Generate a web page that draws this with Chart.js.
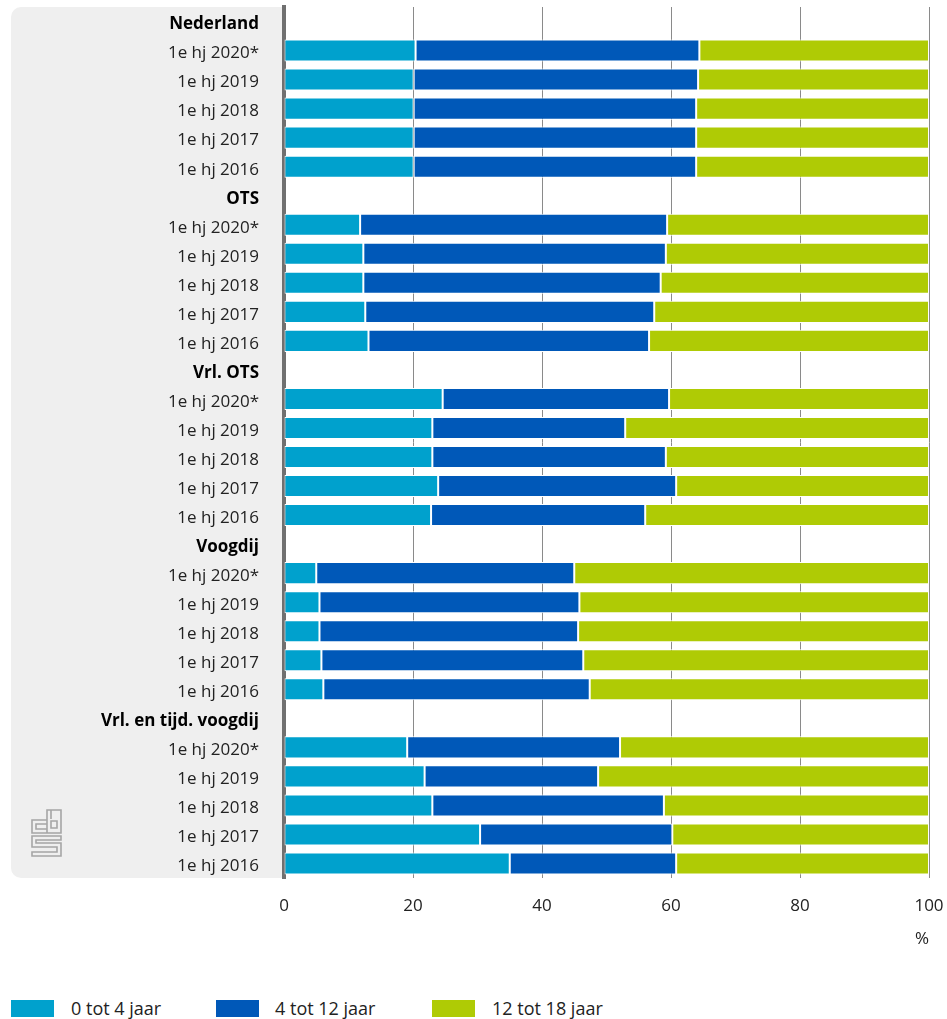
<!DOCTYPE html>
<html>
<head>
<meta charset="utf-8">
<script src="https://cdn.jsdelivr.net/npm/chart.js@4"></script>
<style>
  body { margin: 0; background: #fff; font-family: "Open Sans", sans-serif; }
  #wrap { position: relative; width: 947px; height: 1019px; }
  #chart { position: absolute; left: 0; top: 0; }
  .legend { position: absolute; top: 998px; left: 0; width: 947px; height: 21px; font-size: 18px; color: #222; }
  .legend span.box { position: absolute; top: 2px; width: 43px; height: 17px; }
  .legend span.txt { position: absolute; top: -2px; white-space: nowrap; }
</style>
</head>
<body>
<div id="wrap">
  <canvas id="chart" width="947" height="960"></canvas>
  <div class="legend" id="legend"></div>
</div>
<script>
// groups and periods
const groups = ['Nederland', 'OTS', 'Vrl. OTS', 'Voogdij', 'Vrl. en tijd. voogdij'];
const periods = ['1e hj 2020*', '1e hj 2019', '1e hj 2018', '1e hj 2017', '1e hj 2016'];

// percentages per group, in the order of periods
const age0to4 = [
  [20.4, 20.1, 20.1, 20.1, 20.1],
  [11.8, 12.3, 12.3, 12.6, 13.1],
  [24.6, 23.0, 23.0, 23.9, 22.8],
  [5.0, 5.5, 5.5, 5.8, 6.1],
  [19.1, 21.8, 23.0, 30.4, 35.0]
];
const age4to12 = [
  [44.0, 44.1, 43.8, 43.8, 43.8],
  [47.6, 46.9, 46.1, 44.8, 43.5],
  [35.1, 29.9, 36.2, 36.9, 33.2],
  [40.0, 40.3, 40.1, 40.6, 41.3],
  [33.0, 26.9, 35.9, 29.8, 25.8]
];
const age12to18 = [
  [35.6, 35.8, 36.1, 36.1, 36.1],
  [40.6, 40.8, 41.6, 42.6, 43.4],
  [40.3, 47.1, 40.8, 39.2, 44.0],
  [55.0, 54.2, 54.4, 53.6, 52.6],
  [47.9, 51.3, 41.1, 39.8, 39.2]
];
const xTicks = [0, 20, 40, 60, 80, 100];

const seriesNames = ['0 tot 4 jaar', '4 tot 12 jaar', '12 tot 18 jaar'];
const colors = ['#00a1cd', '#0058b8', '#afcb05'];

// build rows: one header row per group, then its periods
const labels = [];
const headerRows = [];
function flatten(arr) {
  const out = [];
  groups.forEach((g, gi) => {
    out.push(null);
    arr[gi].forEach(v => out.push(v));
  });
  return out;
}
groups.forEach(g => {
  headerRows.push(labels.length);
  labels.push(g);
  periods.forEach(p => labels.push(p));
});

const panelPlugin = {
  id: 'panel',
  beforeDraw(chart) {
    const { ctx, chartArea } = chart;
    const x0 = 11, x1 = chartArea.left, y0 = chartArea.top, y1 = chartArea.bottom, r = 10;
    ctx.save();
    ctx.fillStyle = '#efefef';
    ctx.beginPath();
    ctx.moveTo(x1, y0);
    ctx.lineTo(x0 + r, y0);
    ctx.arcTo(x0, y0, x0, y0 + r, r);
    ctx.lineTo(x0, y1 - r);
    ctx.arcTo(x0, y1, x0 + r, y1, r);
    ctx.lineTo(x1, y1);
    ctx.closePath();
    ctx.fill();

    // cbs logo
    ctx.strokeStyle = '#a5a5a5';
    ctx.lineWidth = 1.6;
    const lx = 32, ly = 810;
    ctx.beginPath();
    // c
    ctx.moveTo(lx + 15, ly + 10); ctx.lineTo(lx, ly + 10); ctx.lineTo(lx, ly + 23); ctx.lineTo(lx + 15, ly + 23);
    ctx.moveTo(lx + 15, ly + 14); ctx.lineTo(lx + 4, ly + 14); ctx.lineTo(lx + 4, ly + 19); ctx.lineTo(lx + 15, ly + 19);
    // b
    ctx.rect(lx + 15, ly, 14, 23);
    ctx.rect(lx + 19, ly + 11, 6, 7);
    ctx.moveTo(lx + 19, ly); ctx.lineTo(lx + 19, ly + 9);
    // S
    ctx.moveTo(lx + 29, ly + 26); ctx.lineTo(lx, ly + 26); ctx.lineTo(lx, ly + 37); ctx.lineTo(lx + 25, ly + 37);
    ctx.lineTo(lx + 25, ly + 42); ctx.lineTo(lx, ly + 42); ctx.lineTo(lx, ly + 46); ctx.lineTo(lx + 29, ly + 46);
    ctx.lineTo(lx + 29, ly + 33); ctx.lineTo(lx + 4, ly + 33); ctx.lineTo(lx + 4, ly + 30); ctx.lineTo(lx + 29, ly + 30);
    ctx.closePath();
    ctx.stroke();
    ctx.restore();
  }
};

const font = 'Open Sans';

new Chart(
  document.getElementById('chart'),
  {
    type: 'bar',
    plugins: [panelPlugin],
    data: {
      labels: labels,
      datasets: [
        { label: seriesNames[0], data: flatten(age0to4), backgroundColor: colors[0] },
        { label: seriesNames[1], data: flatten(age4to12), backgroundColor: colors[1] },
        { label: seriesNames[2], data: flatten(age12to18), backgroundColor: colors[2] }
      ]
    },
    options: {
      indexAxis: 'y',
      responsive: false,
      animation: false,
      devicePixelRatio: 1,
      layout: { padding: { top: 7, right: 18, left: 0, bottom: 0 } },
      datasets: {
        bar: {
          categoryPercentage: 1,
          barPercentage: 0.76,
          borderColor: '#ffffff',
          borderWidth: 1,
          borderSkipped: false
        }
      },
      plugins: {
        legend: { display: false },
        tooltip: { enabled: true }
      },
      scales: {
        x: {
          stacked: true,
          min: 0,
          max: 100,
          afterFit(scale) {
            scale.height = 82;
            scale.paddingLeft = 0;
            scale.paddingRight = 0;
          },
          afterBuildTicks(scale) { scale.ticks = xTicks.map(v => ({ value: v })); },
          grid: { color: '#8a8a8a', lineWidth: 1, drawTicks: false },
          border: { display: false },
          ticks: {
            padding: 18,
            maxRotation: 0,
            color: '#222',
            font: { family: font, size: 17 }
          },
          title: {
            display: true,
            text: '%',
            align: 'end',
            color: '#222',
            padding: { top: 0, bottom: 11 },
            font: { family: font, size: 17 }
          }
        },
        y: {
          stacked: true,
          z: 1,
          afterFit(scale) {
            scale.width = 284;
            scale.paddingTop = 0;
            scale.paddingBottom = 0;
          },
          grid: { display: false, drawTicks: false },
          border: { display: true, color: '#707070', width: 4 },
          ticks: {
            autoSkip: false,
            padding: 25,
            labelOffset: 3,
            color: (c) => headerRows.includes(c.index) ? '#000' : '#222',
            font: (c) => ({
              family: font,
              size: 17,
              weight: headerRows.includes(c.index) ? 'bold' : 'normal'
            })
          }
        }
      }
    }
  }
);

// legend
const legendPos = [[11, 71], [216, 275], [432, 492]];
const legendEl = document.getElementById('legend');
seriesNames.forEach((name, i) => {
  const box = document.createElement('span');
  box.className = 'box';
  box.style.left = legendPos[i][0] + 'px';
  box.style.background = colors[i];
  const txt = document.createElement('span');
  txt.className = 'txt';
  txt.style.left = legendPos[i][1] + 'px';
  txt.textContent = name;
  legendEl.appendChild(box);
  legendEl.appendChild(txt);
});
</script>
</body>
</html>
